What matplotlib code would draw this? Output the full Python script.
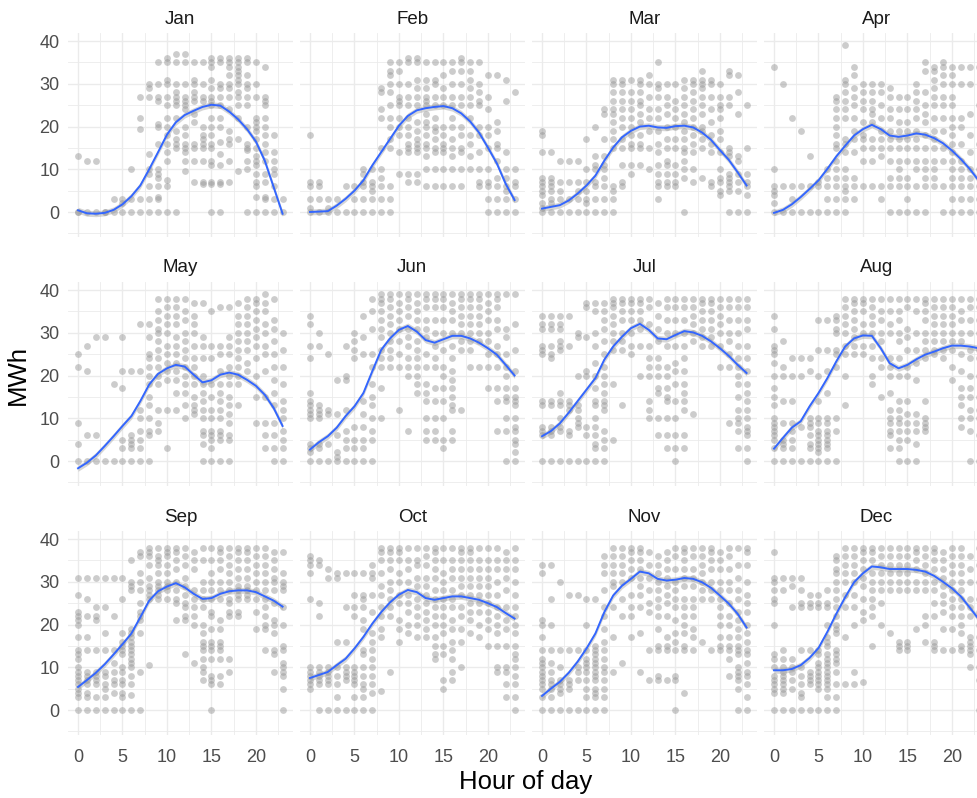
import numpy as np
import matplotlib
matplotlib.use("Agg")
import matplotlib.pyplot as plt
from matplotlib.ticker import MultipleLocator

plt.rcParams['font.family'] = ['Liberation Sans', 'DejaVu Sans']

months = ["Jan", "Feb", "Mar", "Apr", "May", "Jun",
          "Jul", "Aug", "Sep", "Oct", "Nov", "Dec"]
hours = list(range(24))

# smoothed curve, one value per hour
jan_fit = [0.4, -0.3, -0.4, -0.2, 0.5, 1.8, 3.7, 6.2, 10.0, 14.0, 18.1, 21.0, 22.7, 23.7, 24.6, 25.1, 24.9, 23.5, 21.7, 19.4, 16.5, 12.0, 5.8, -0.4]
feb_fit = [0.0, 0.1, 0.2, 1.5, 3.1, 5.0, 7.4, 10.9, 14.0, 17.1, 20.2, 22.5, 23.8, 24.3, 24.6, 24.8, 24.3, 23.1, 21.2, 18.6, 15.1, 11.4, 6.6, 2.8]
mar_fit = [0.8, 1.2, 1.6, 2.7, 4.3, 6.2, 8.5, 12.0, 15.1, 17.5, 19.0, 20.0, 20.2, 19.8, 19.7, 20.1, 20.2, 19.8, 18.6, 16.9, 14.5, 12.2, 9.3, 6.2]
apr_fit = [-0.2, 0.5, 1.8, 3.5, 5.4, 7.4, 10.1, 13.0, 15.5, 17.9, 19.4, 20.4, 19.4, 17.9, 17.6, 17.9, 18.4, 18.1, 17.3, 16.1, 14.4, 12.4, 10.1, 7.4]
may_fit = [-1.7, -0.4, 1.3, 3.5, 5.8, 8.2, 10.5, 14.0, 17.9, 20.4, 21.7, 22.5, 22.1, 20.2, 18.4, 18.9, 20.2, 20.7, 20.2, 19.0, 17.6, 15.5, 12.4, 8.2]
jun_fit = [2.7, 4.4, 5.8, 7.8, 10.5, 12.8, 15.9, 21.0, 26.0, 28.7, 30.7, 31.6, 30.3, 28.3, 27.7, 28.5, 29.3, 29.3, 28.7, 27.7, 26.4, 24.9, 22.5, 20.0]
jul_fit = [5.8, 7.0, 8.8, 11.3, 14.0, 16.7, 19.4, 23.7, 26.8, 29.1, 31.1, 32.1, 30.7, 28.7, 28.5, 29.5, 30.4, 30.1, 29.3, 28.0, 26.4, 24.6, 22.5, 20.6]
aug_fit = [2.9, 5.4, 7.8, 9.3, 12.8, 15.9, 19.4, 23.3, 26.8, 28.7, 29.4, 29.3, 26.4, 22.9, 21.7, 22.5, 23.8, 24.9, 25.6, 26.4, 27.0, 27.0, 26.8, 26.4]
sep_fit = [5.4, 7.0, 8.7, 10.7, 13.0, 15.4, 17.9, 21.7, 25.6, 27.8, 28.9, 29.7, 28.7, 27.2, 26.0, 26.2, 27.2, 27.8, 28.0, 28.0, 27.6, 26.6, 25.6, 24.2]
oct_fit = [7.5, 8.2, 8.9, 10.5, 12.0, 14.4, 17.1, 20.2, 22.9, 25.2, 27.0, 28.1, 27.6, 26.2, 25.8, 26.2, 26.6, 26.6, 26.2, 25.8, 25.0, 24.1, 22.7, 21.4]
nov_fit = [3.3, 5.0, 6.6, 8.7, 11.3, 14.4, 17.9, 22.9, 26.8, 29.1, 30.7, 32.4, 32.0, 30.7, 30.3, 30.5, 30.9, 30.7, 29.9, 28.6, 26.8, 24.9, 22.5, 19.3]
dec_fit = [9.3, 9.3, 9.6, 10.5, 12.2, 14.5, 18.3, 22.5, 26.4, 29.9, 32.0, 33.6, 33.4, 33.0, 33.0, 33.0, 32.8, 32.4, 31.4, 30.0, 28.5, 26.6, 24.0, 21.3]
fit_se = 0.7

# observed MWh values at each hour (one list per hour)
jan_obs = [[0, 0, 13], [0, 12], [0, 12], [0, 0], [0, 3], [0, 2, 3], [0, 3, 10],
           [0, 3, 19.5, 22, 27], [0, 3, 6, 9, 10, 13.5, 27, 29, 30],
           [0, 3, 3.5, 6, 8, 9, 10, 16, 20, 20.5, 26, 27, 30, 35],
           [0, 6, 7.5, 12, 14, 16, 18, 20, 22, 25, 27, 30, 31, 35, 36],
           [0, 15, 16, 17, 19, 22, 25, 26, 27, 28, 30, 35, 37],
           [9.5, 12, 14, 15, 16, 18, 20, 24, 25, 26, 27, 30, 35, 37],
           [7, 12, 15, 16, 21, 23, 26, 27, 28, 30, 31, 35],
           [6.5, 7, 12, 15, 16, 17, 18, 20, 26, 27, 30, 35],
           [0, 6.5, 7, 11, 12, 15, 16, 18, 20, 22, 25, 26, 27, 29, 31, 34, 35, 36],
           [0, 6.5, 7, 11, 13.5, 16.5, 20, 22, 25, 27, 29, 30, 35, 36],
           [7, 12, 16, 17, 19, 24, 27, 29, 30, 32, 34, 35, 36],
           [9.5, 17, 22, 25, 27, 28, 30, 31, 32, 33, 34, 35, 36],
           [0, 10, 12, 14.5, 15, 16, 20, 25, 27, 29, 30, 32, 35, 36],
           [0, 3.5, 6, 7, 9, 11, 12, 13, 15, 17, 19, 20, 21, 22, 27, 30, 35],
           [0, 3, 3.5, 7, 9, 12, 14, 16, 18, 20, 22, 25, 26, 27, 34],
           [0, 3, 6, 9, 10, 12, 14, 18], [0, 3]]
feb_obs = [[0, 1, 3, 6, 7, 18], [0, 3, 6, 7], [0, 1, 3], [0, 3], [0, 6], [0, 3, 6],
           [0, 3, 6, 7, 9, 10], [0, 3, 5, 6, 7, 10],
           [0, 3, 6, 8, 10, 15, 22, 24, 28, 29],
           [0, 3, 6, 15, 17, 20, 22, 25, 28, 30, 32, 33, 35],
           [9, 14, 18, 20, 22, 25, 26, 27, 30, 33, 35],
           [7, 9, 14, 15, 16, 18, 20, 22, 25, 27, 30, 35, 36],
           [7, 9, 14, 15, 16, 17, 19, 21, 25, 27, 29, 31, 35, 36],
           [6, 10, 13, 15, 16, 18, 20, 21, 23, 25, 26, 27, 29, 31, 35],
           [6, 10, 14, 15, 17, 19, 20, 22, 25, 27, 30, 31, 35],
           [6, 10, 14, 15, 16, 18, 20, 25, 27, 29, 32, 35],
           [6, 10, 13, 15, 17, 20, 22, 25, 27, 30, 33, 35],
           [6, 10, 14, 15, 18, 20, 25, 27, 30, 33, 35, 36],
           [10, 13, 16, 18, 22, 25, 27, 29, 31, 33, 35],
           [6, 7, 10, 14, 18, 20, 25, 26, 28, 30, 35],
           [0, 3, 6, 7, 10, 15, 18, 20, 24, 27, 32],
           [0, 3, 6, 8, 12, 15, 16, 19, 21, 32],
           [0, 3, 5, 6, 8, 10, 14, 26, 31], [0, 3, 6, 7, 10, 28]]
mar_obs = [[0, 1, 2, 4, 5, 6, 7, 8, 14, 18, 19], [0, 2, 3, 5, 6, 7, 8, 14],
           [0, 3, 5, 7, 12], [0, 3, 7, 12], [0, 3, 5, 7, 12], [0, 2, 3, 5, 7, 10, 17],
           [0, 3, 6, 7, 10, 11, 13, 20], [0, 3, 6, 8, 10, 11, 13, 17, 23, 24],
           [0, 3, 5, 6, 15, 17, 19, 21, 23, 24, 26, 28, 30, 31],
           [6, 7, 11, 15, 17, 20, 22, 24, 26, 28, 30, 31],
           [9, 11, 15, 16, 18, 20, 22, 24, 26, 28, 31],
           [11, 15, 16, 18, 21, 23, 25, 26, 28, 30, 31],
           [10, 15, 19, 22, 24, 27, 30, 32],
           [3, 6, 7, 9, 11, 14, 16, 19, 22, 24, 27, 29, 30, 35],
           [6, 7, 9, 11, 12, 15, 17, 20, 23, 25, 27, 30],
           [6, 7, 9, 11, 15, 17, 20, 22, 24, 26, 30],
           [0, 8, 10, 12, 14, 15, 17, 19, 21, 23, 25, 27, 29, 31],
           [7, 10, 14, 16, 18, 20, 22, 24, 26, 28, 30, 31],
           [8, 15, 17, 19, 20, 23, 25, 27, 29, 30, 31, 33],
           [6, 7, 14, 16, 18, 21, 24, 27, 30, 31],
           [4, 5, 7, 8, 10, 14, 17, 19, 22, 24, 25, 27, 30],
           [0, 5, 6, 7, 8, 9, 13, 14, 15, 25, 27, 32, 33],
           [0, 5, 7, 9, 12, 13, 23, 28, 32], [0, 4, 6, 7, 9, 15, 25]]
apr_obs = [[0, 2, 4, 5, 6, 10, 34], [0, 6, 30], [0, 3, 6, 22], [0, 6, 19], [0, 6, 13],
           [0, 6, 7], [0, 3, 6, 8, 10],
           [0, 3, 6, 8, 10, 12, 15, 16, 18, 20, 22, 24, 26, 27],
           [0, 3, 5, 6, 8, 10, 14, 16, 17, 22, 24, 26, 28, 30, 31, 39],
           [3, 6, 8, 14, 17, 19, 22, 25, 27, 29, 32, 34],
           [6, 12, 15, 17, 18, 21, 24, 26, 28, 30],
           [6, 12, 15, 17, 21, 23, 24, 26, 28, 30],
           [3, 6, 13, 15, 17, 19, 22, 25, 28, 30],
           [0, 6, 8, 12, 15, 17, 19, 22, 24, 27, 29],
           [0, 6, 8, 10, 12, 15, 17, 19, 21, 24, 27],
           [0, 3, 6, 8, 12, 15, 17, 19, 21, 24, 27],
           [0, 6, 10, 12, 15, 17, 19, 22, 24, 26, 28, 30],
           [0, 6, 8, 10, 12, 15, 18, 21, 23, 25, 28, 33, 35],
           [6, 8, 10, 12, 15, 17, 19, 22, 25, 27, 29, 31, 33, 34],
           [0, 6, 12, 15, 19, 22, 25, 27, 30, 32, 34, 35],
           [0, 3, 6, 8, 10, 12, 14, 16, 18, 20, 22, 25, 27, 30, 32, 34],
           [0, 3, 6, 8, 10, 12, 16, 20, 22, 30, 34],
           [0, 3, 6, 8, 10, 14, 18, 23, 30, 34], [0, 3, 6, 10, 16, 25, 34]]
may_obs = [[0, 4, 9, 22, 25], [0, 6, 21, 27], [0, 6, 29], [0, 29], [0, 18],
           [0, 3, 5, 17, 21, 29], [0, 3, 4, 5, 6, 21], [0, 3, 5, 7, 10, 12, 21, 32],
           [0, 6, 7, 10, 13, 15, 18, 20, 22, 24, 25, 29, 32],
           [7, 9, 12, 18, 20, 22, 24, 26, 28, 30, 31, 33, 35, 38],
           [3, 12, 19, 21, 23, 25, 27, 30, 32, 34, 36, 38],
           [12, 16, 19, 21, 23, 25, 27, 29, 32, 34, 36, 38],
           [10, 13, 16, 18, 20, 22, 24, 26, 28, 30, 33, 35, 38],
           [11, 12, 13, 15, 18, 20, 22, 24, 27, 30, 32, 34, 37],
           [0, 4, 6, 7, 10, 12, 14, 16, 18, 20, 24, 27, 29, 37],
           [0, 3, 5, 6, 7, 10, 12, 15, 18, 24, 27, 35],
           [0, 5, 6, 7, 10, 12, 14, 16, 18, 21, 25, 27, 36],
           [0, 5, 6, 9, 11, 13, 15, 18, 20, 22, 25, 27, 29, 36],
           [13, 18, 20, 22, 24, 26, 28, 30, 32, 34, 37],
           [21, 23, 26, 28, 30, 32, 34, 36, 38],
           [9, 15, 20, 24, 27, 29, 31, 33, 35, 37, 38],
           [3, 6, 9, 15, 21, 25, 27, 30, 32, 35, 37, 39],
           [0, 3, 6, 9, 13, 16, 19, 22, 25, 28, 31, 33, 38],
           [0, 3, 5, 7, 10, 12, 14, 18, 22, 26, 30]]
jun_obs = [[0, 2, 3, 4, 10, 11, 12, 13, 14, 16, 24, 27, 32, 34],
           [0, 3, 4, 10, 11, 12, 13, 27, 30], [0, 4, 11, 12, 25], [0, 1, 2, 6, 11, 19],
           [0, 3, 5, 7, 12, 19, 20, 27], [0, 3, 5, 8, 24, 26, 28, 30],
           [0, 3, 5, 8, 11, 14, 25, 29, 34],
           [0, 5, 7, 10, 13, 15, 18, 22, 25, 31, 35, 38],
           [10, 17, 22, 24, 26, 29, 31, 33, 35, 37, 38, 39],
           [22, 24, 26, 28, 30, 32, 34, 36, 38, 39],
           [12, 22, 25, 28, 31, 33, 35, 37, 39],
           [7, 20, 22, 24, 27, 29, 31, 34, 36, 38, 39],
           [16, 18, 20, 22, 24, 26, 28, 31, 33, 35, 37, 39],
           [5, 7, 10, 14, 16, 18, 22, 25, 29, 31, 33, 36, 38, 39],
           [5, 7, 10, 14, 17, 22, 24, 27, 30, 33, 36, 38, 39],
           [3, 5, 10, 14, 17, 20, 22, 26, 30, 33, 36, 38, 39],
           [5, 7, 12, 13, 15, 17, 19, 21, 24, 27, 30, 33, 35, 37, 39],
           [12, 26, 28, 30, 32, 34, 36, 38, 39],
           [22, 26, 28, 30, 32, 34, 36, 38, 39],
           [22, 28, 30, 32, 34, 36, 38, 39],
           [17, 22, 25, 28, 30, 33, 35, 37, 39],
           [7, 14, 17, 22, 25, 27, 31, 33, 36, 38, 39],
           [0, 7, 10, 14, 15, 17, 20, 22, 25, 29, 31, 39],
           [0, 2, 4, 5, 7, 8, 10, 13, 14, 15, 17, 21, 26, 32, 39]]
jul_obs = [[0, 6, 7, 8, 13, 14, 25, 26, 27, 31, 32, 34],
           [0, 6, 7, 8, 13, 14, 24, 25, 27, 31, 32, 34],
           [0, 7, 8, 10, 13, 14, 16, 26, 27, 28, 31, 32, 34],
           [0, 6, 7, 12, 13, 14, 27, 34], [0, 8, 9, 10, 12, 13, 20, 29, 30],
           [0, 6, 8, 20, 21, 29, 36, 37],
           [0, 3, 4, 6, 8, 10, 13, 14, 17, 20, 23, 27, 30, 35, 37],
           [0, 3, 5, 7, 12, 13, 14, 16, 18, 20, 22, 25, 28, 31, 33, 35, 37],
           [5, 18, 26, 28, 30, 32, 34, 36, 37, 38],
           [13, 26, 28, 30, 33, 35, 37, 38], [25, 27, 30, 33, 35, 37, 38],
           [20, 27, 31, 33, 35, 37, 38], [10, 12, 14, 20, 22, 24, 27, 32, 36, 38],
           [6, 10, 16, 17, 20, 22, 24, 28, 31, 34, 37],
           [3, 6, 10, 14, 15, 17, 20, 22, 27, 30, 33, 36, 38],
           [0, 3, 6, 10, 14, 18, 21, 23, 27, 30, 33, 36, 38],
           [3, 6, 12, 14, 16, 18, 21, 24, 27, 30, 33, 36, 38],
           [11, 28, 30, 32, 34, 36, 38], [27, 29, 31, 33, 35, 37, 38],
           [27, 29, 31, 33, 35, 37, 38], [22, 27, 30, 32, 34, 36, 38],
           [9, 22, 25, 28, 30, 33, 36, 38],
           [3, 7, 9, 10, 12, 15, 18, 20, 22, 24, 27, 30, 33, 36, 38],
           [0, 3, 6, 7, 8, 10, 12, 14, 16, 18, 21, 24, 27, 31, 33, 36, 38]]
aug_obs = [[0, 3, 5, 6, 7, 8, 9, 10, 13, 15, 17, 20, 23, 25, 26, 27, 31, 34],
           [0, 3, 4, 5, 9, 14, 20, 22, 28], [0, 3, 5, 7, 9, 14, 20, 24], [0, 8, 20, 24],
           [0, 3, 4, 6, 8, 9, 10, 21, 24],
           [0, 2, 3, 4, 5, 6, 7, 9, 10, 14, 20, 26, 33],
           [0, 3, 4, 5, 6, 7, 9, 10, 16, 21, 26, 33],
           [0, 7, 10, 22, 25, 26, 30, 31, 33, 34],
           [13, 20, 25, 27, 30, 32, 34, 36, 38], [25, 27, 29, 31, 33, 35, 37, 38],
           [25, 27, 30, 32, 35, 37, 38], [18, 20, 24, 27, 30, 32, 34, 36, 38],
           [15, 22, 24, 28, 30, 33, 35, 38],
           [3, 6, 7, 9, 10, 12, 16, 20, 22, 24, 30, 32, 35, 38],
           [0, 3, 5, 7, 9, 10, 12, 14, 20, 24, 28, 30, 33, 35, 38],
           [0, 5, 7, 9, 11, 14, 20, 22, 26, 29, 31, 36, 38],
           [0, 4, 7, 9, 11, 19, 23, 26, 30, 35, 38],
           [7, 8, 9, 10, 14, 24, 26, 28, 30, 33, 35, 37, 38],
           [25, 26, 28, 30, 32, 34, 36, 38], [24, 26, 28, 30, 32, 34, 36, 38],
           [19, 22, 26, 28, 30, 32, 34, 36, 38],
           [8, 10, 13, 15, 17, 21, 25, 28, 30, 33, 35, 38],
           [0, 7, 10, 12, 15, 17, 20, 24, 26, 30, 33, 36, 38],
           [0, 6, 10, 12, 15, 20, 24, 26, 30, 33, 36, 38]]
sep_obs = [[0, 3, 4, 5, 6, 7, 8, 9, 10, 12, 13, 14, 17, 20, 21, 22, 23, 27, 31],
           [0, 3, 4, 6, 7, 8, 9, 14, 17, 22, 26, 31],
           [0, 3, 6, 7, 8, 9, 14, 21, 22, 24, 31],
           [0, 3, 5, 6, 8, 9, 14, 18, 24, 31], [0, 4, 6, 7, 9, 11, 14, 22, 31],
           [0, 3, 4, 6, 7, 9, 10, 13, 14, 15, 16, 18, 26, 31],
           [0, 3.5, 6, 8, 10, 11, 12, 13, 14, 15, 16, 17, 18, 19, 28, 29, 30, 35],
           [0, 9, 18, 21, 22, 23, 25, 28, 30, 32, 36, 37],
           [10.5, 26, 27, 28, 29, 31, 34, 36, 37, 38],
           [26, 27, 28, 29, 30, 32, 34, 35, 36, 38],
           [26, 28, 29, 30, 32, 34, 36, 37, 38], [21, 25, 26, 28, 30, 33, 35, 37, 38],
           [13, 21, 22, 24, 25, 27, 29, 31, 34, 36, 38],
           [11, 20, 22, 24, 26, 28, 33, 35, 37],
           [7, 9, 10, 12, 14, 15, 16, 18, 20, 24, 26, 28, 30, 35, 38],
           [0, 6, 7, 8, 12, 14, 15, 16, 19, 22, 23, 26, 28, 30, 32, 35, 38],
           [6, 8, 12, 14, 15, 16, 19, 21, 26, 28, 30, 33, 35, 37, 38],
           [9, 12, 22, 23, 25, 26, 28, 30, 32, 34, 36, 38],
           [22, 23, 26, 27, 28, 29, 31, 33, 35, 37, 38],
           [26, 27, 28, 29, 31, 33, 35, 37, 38], [19, 23, 26, 28, 30, 32, 34, 36, 38],
           [14, 19, 20, 22, 24, 26, 28, 30, 32, 34, 36, 38],
           [9, 13, 14, 18, 20, 21, 25, 28, 30, 31, 33, 35, 37],
           [0, 5, 8, 9, 10, 11, 14, 15, 20, 24, 28, 29, 30, 32, 37]]
oct_obs = [[5, 6, 7, 8, 9, 10, 26, 32, 34, 35, 36], [0, 6, 7, 8, 9, 10, 22, 25, 34, 35],
           [0, 6, 7, 8, 9, 10, 31, 33], [0, 3, 6, 8, 10, 16, 31, 32],
           [0, 7, 8, 9, 10, 16, 24, 32], [0, 3, 6, 7, 8, 9, 10, 22, 24, 27, 32],
           [0, 3, 5, 6, 8, 10, 13, 14, 19, 21, 24, 26, 27, 32],
           [0, 4, 6, 8, 10, 12, 14, 16, 18, 23, 27, 31, 32, 34],
           [4.5, 17, 19, 22, 24, 27, 29, 32, 35, 37, 38],
           [9, 22, 24, 26, 28, 30, 33, 35, 37, 38],
           [16, 19, 21, 25, 27, 30, 32, 35, 37, 38], [18, 20, 23, 25, 27, 30, 33, 35, 38],
           [17, 20, 22, 24, 26, 29, 31, 34, 35, 38],
           [17, 19, 21, 23, 25, 27, 29, 31, 34, 36, 38],
           [12, 13, 15, 17, 20, 22, 24, 26, 28, 31, 33, 35, 37, 38],
           [5, 7, 13, 15, 18, 20, 22, 24, 26, 28, 30, 32, 35, 38],
           [7, 9, 12, 14, 16, 19, 21, 24, 26, 28, 31, 33, 35, 38],
           [10, 16, 19, 22, 24, 27, 29, 31, 33, 35, 37, 38],
           [18, 21, 23, 25, 27, 29, 31, 33, 35, 37, 38],
           [17, 20, 23, 25, 27, 29, 31, 33, 35, 38],
           [15, 19, 21, 23, 25, 27, 29, 31, 33, 35, 38],
           [9, 10, 15, 18, 20, 22, 24, 27, 30, 33, 35, 38],
           [3, 6, 9, 10, 15, 19, 21, 24, 28, 31, 33, 35, 37],
           [0, 3, 6, 8, 10, 12, 13, 15, 18, 20, 22, 24, 27, 30, 33, 35, 38]]
nov_obs = [[0, 3, 5, 6, 7, 8, 9, 10, 11, 12, 14, 17, 20, 21, 32, 34],
           [0, 3, 5, 6, 7, 9, 11, 14, 20, 26, 34], [0, 4, 5, 6, 7, 10, 14, 30],
           [0, 5, 6, 7, 14, 27], [0, 7, 9, 10, 14, 27],
           [0, 3, 5, 7, 9, 10, 11, 12, 14, 20, 26],
           [0, 3, 4, 5, 7, 8, 9, 10, 11, 12, 13, 14, 15, 26],
           [0, 3, 5, 7, 9, 10, 12, 14, 16, 19, 22, 24, 28, 32, 34, 36],
           [9, 17, 24, 29, 30, 32, 34, 36, 38], [11, 22, 26, 30, 32, 34, 36, 38],
           [17, 22, 24, 27, 31, 33, 35, 37, 38], [9, 18, 24, 27, 29, 31, 33, 35, 37, 38],
           [7, 14, 23, 25, 28, 31, 34, 37],
           [7, 8, 14, 15, 19, 22, 24, 26, 28, 30, 32, 34, 36],
           [7, 14, 15, 17, 22, 25, 27, 29, 31, 33, 35, 37],
           [0, 7, 8, 14, 16, 18, 21, 24, 26, 28, 30, 33, 36, 38],
           [4, 14, 15, 18, 20, 22, 24, 26, 29, 31, 33, 35, 37, 38],
           [14, 17, 19, 22, 24, 26, 29, 31, 33, 36, 38],
           [16, 26, 28, 30, 32, 34, 36, 38], [14, 26, 28, 30, 33, 35, 37, 38],
           [14, 15, 17, 20, 22, 24, 26, 28, 30, 33, 35, 37],
           [8, 12, 14, 15, 17, 20, 22, 25, 28, 30, 33, 36, 38],
           [0, 5, 7, 8, 9, 10, 13, 14, 15, 17, 19, 21, 23, 26, 28, 31, 34, 38],
           [0, 3, 6, 8, 9, 11, 13, 14, 16, 18, 20, 23, 25, 27, 30, 34, 37, 38]]
dec_obs = [[0, 4, 5, 6, 7, 8, 10, 12, 13, 20, 25, 26, 28, 30, 31, 37],
           [0, 4, 5, 6, 7, 8, 9, 10, 12, 14, 28, 31], [0, 5, 7, 9, 10, 12, 24, 29, 31],
           [0, 3, 4, 6, 8, 10, 14, 24, 25, 28, 31], [0, 6, 7, 8, 9, 14, 24, 25, 27],
           [0, 5, 6, 7, 8, 9, 10, 11, 13, 14, 24, 25, 27],
           [0, 3, 5, 6, 7, 8, 9, 10, 11, 12, 13, 15, 16, 17, 20, 24, 25, 28],
           [0, 3, 6, 9, 11, 12, 13, 14, 18, 19, 20, 22, 24, 26, 28, 30, 32, 33, 35, 36],
           [6, 17, 24, 27, 30, 32, 34, 36, 38], [6, 9, 20, 24, 27, 30, 32, 34, 36, 38],
           [6.5, 21, 23, 26, 29, 31, 33, 35, 37, 38], [15, 22, 24, 26, 28, 30, 32, 35, 37, 38],
           [20, 25, 28, 30, 32, 34, 36, 38], [18, 28, 30, 32, 34, 36, 38],
           [14, 15, 16, 28, 30, 32, 34, 36, 38], [14, 15, 16, 28, 30, 32, 34, 36, 38],
           [19, 28, 30, 33, 35, 37, 38], [16, 20, 22, 28, 30, 32, 34, 36, 38],
           [14, 15, 16, 22, 25, 28, 30, 33, 35, 37, 38],
           [14, 19, 23, 25, 27, 29, 31, 33, 35, 37],
           [14, 19, 22, 24, 26, 28, 30, 32, 34, 36, 38],
           [14, 15, 18, 20, 22, 24, 26, 28, 30, 32, 34, 36, 38],
           [10, 13, 14, 15, 16, 17, 22, 24, 26, 30, 33, 36],
           [0, 7, 10, 14, 17, 20, 23, 26, 30, 34, 38]]

fits = [jan_fit, feb_fit, mar_fit, apr_fit, may_fit, jun_fit,
        jul_fit, aug_fit, sep_fit, oct_fit, nov_fit, dec_fit]
obs = [jan_obs, feb_obs, mar_obs, apr_obs, may_obs, jun_obs,
       jul_obs, aug_obs, sep_obs, oct_obs, nov_obs, dec_obs]

W, H = 977, 798
fig = plt.figure(figsize=(W / 100, H / 100), dpi=100)

# panel geometry in pixels (right column runs off the edge like the original)
x0, col_step, pw = 67.8, 232, 225
y0, row_step, ph = 33, 249, 204

for i, m in enumerate(months):
    r, c = divmod(i, 4)
    left = (x0 + c * col_step) / W
    bottom = 1 - (y0 + r * row_step + ph) / H
    ax = fig.add_axes([left, bottom, pw / W, ph / H])

    xs = [h for h, vals in zip(hours, obs[i]) for v in vals]
    ys = [v for vals in obs[i] for v in vals]
    ax.scatter(xs, ys, s=24, color="#9a9a9a", alpha=0.5, linewidths=0, zorder=2)

    f = np.array(fits[i])
    ax.fill_between(hours, f - fit_se, f + fit_se, color="#999999", alpha=0.4,
                    linewidth=0, zorder=3)
    ax.plot(hours, f, color="#3366FF", lw=1.4, zorder=4)

    ax.set_xlim(-1.15, 24.15)
    ax.set_ylim(-5.85, 41.9)
    ax.xaxis.set_major_locator(MultipleLocator(5))
    ax.xaxis.set_minor_locator(MultipleLocator(2.5))
    ax.yaxis.set_major_locator(MultipleLocator(10))
    ax.yaxis.set_minor_locator(MultipleLocator(5))
    ax.grid(which="major", color="#EBEBEB", lw=1.0, zorder=0)
    ax.grid(which="minor", color="#EBEBEB", lw=0.6, zorder=0)
    ax.set_axisbelow(True)
    for s in ax.spines.values():
        s.set_visible(False)
    ax.tick_params(which="both", length=0, labelsize=13, labelcolor="#4D4D4D")
    ax.tick_params(axis="x", pad=10)
    ax.tick_params(axis="y", pad=6)
    if c != 0:
        ax.set_yticklabels([])
    if r != 2:
        ax.set_xticklabels([])
    ax.text(0.5, 1 + 14 / ph, m, transform=ax.transAxes, ha="center", va="center",
            fontsize=13.5, color="#1A1A1A")

fig.text(526 / W, 1 - 782 / H, "Hour of day", ha="center", va="center", fontsize=18.5)
fig.text(18 / W, 1 - 375 / H, "MWh", ha="center", va="center", rotation=90, fontsize=18.5)

fig.savefig("out.png", dpi=100)
